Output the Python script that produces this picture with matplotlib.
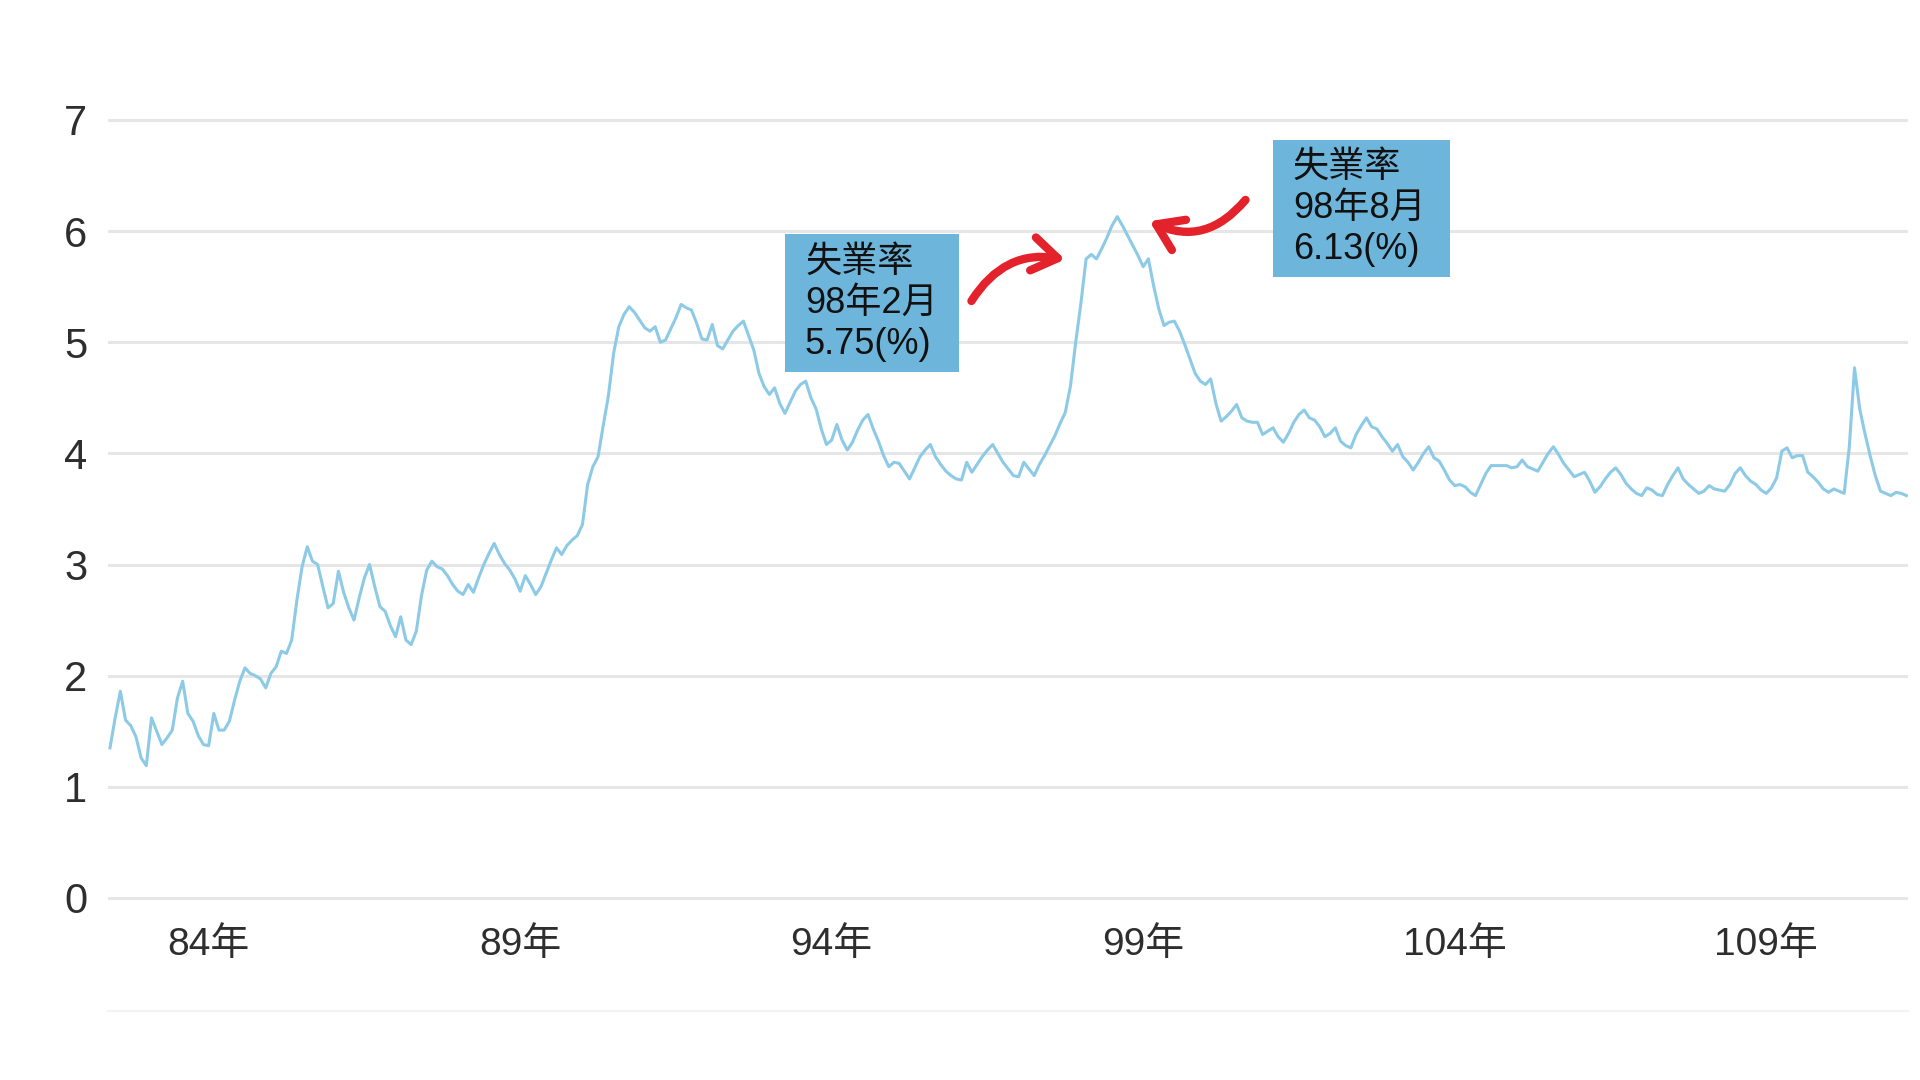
import matplotlib
matplotlib.use("Agg")
import matplotlib.pyplot as plt
from matplotlib.patches import Rectangle, FancyArrowPatch
from matplotlib.lines import Line2D

plt.rcParams['font.family'] = ['Liberation Sans', 'Noto Sans CJK TC', 'DejaVu Sans']

# Monthly unemployment rate (%), from 82年6月 to 111年4月, one row per ROC year
start_year, start_month = 82, 6
rate_82_83 = [1.35, 1.62, 1.86, 1.60, 1.55, 1.45, 1.26,
              1.19, 1.62, 1.50, 1.38, 1.44, 1.51, 1.80, 1.95, 1.66, 1.59, 1.46, 1.38]
rate_84_88 = [1.37, 1.66, 1.51, 1.51, 1.59, 1.78, 1.95, 2.07, 2.02, 2.00, 1.97, 1.89,
              2.02, 2.08, 2.22, 2.20, 2.32, 2.68, 2.98, 3.16, 3.03, 3.00, 2.80, 2.61,
              2.65, 2.94, 2.75, 2.61, 2.50, 2.70, 2.88, 3.00, 2.80, 2.62, 2.58, 2.45,
              2.35, 2.53, 2.32, 2.28, 2.40, 2.72, 2.95, 3.03, 2.98, 2.96, 2.90, 2.82,
              2.76, 2.73, 2.82, 2.75, 2.88, 3.00, 3.10, 3.19, 3.09, 3.01, 2.95, 2.87]
rate_89_93 = [2.76, 2.90, 2.82, 2.73, 2.80, 2.92, 3.04, 3.15, 3.09, 3.17, 3.22, 3.26,
              3.36, 3.72, 3.88, 3.97, 4.25, 4.52, 4.90, 5.14, 5.25, 5.32, 5.27, 5.20,
              5.13, 5.10, 5.14, 5.00, 5.02, 5.12, 5.22, 5.34, 5.31, 5.29, 5.17, 5.03,
              5.02, 5.16, 4.97, 4.94, 5.02, 5.10, 5.15, 5.19, 5.06, 4.93, 4.72, 4.60,
              4.53, 4.59, 4.45, 4.36, 4.46, 4.56, 4.62, 4.65, 4.50, 4.40, 4.22, 4.08]
rate_94_98 = [4.12, 4.26, 4.12, 4.03, 4.10, 4.21, 4.30, 4.35, 4.22, 4.11, 3.98, 3.88,
              3.92, 3.91, 3.84, 3.77, 3.87, 3.97, 4.03, 4.08, 3.97, 3.90, 3.84, 3.80,
              3.77, 3.76, 3.92, 3.83, 3.90, 3.97, 4.03, 4.08, 4.00, 3.92, 3.86, 3.80,
              3.79, 3.92, 3.86, 3.80, 3.90, 3.98, 4.07, 4.16, 4.27, 4.37, 4.61, 5.00,
              5.35, 5.75, 5.79, 5.75, 5.84, 5.94, 6.05, 6.13, 6.05, 5.96, 5.87, 5.78]
rate_99_103 = [5.68, 5.75, 5.51, 5.30, 5.15, 5.18, 5.19, 5.10, 4.98, 4.85, 4.72, 4.65,
               4.62, 4.67, 4.45, 4.29, 4.33, 4.38, 4.44, 4.32, 4.29, 4.28, 4.28, 4.17,
               4.20, 4.23, 4.15, 4.10, 4.18, 4.28, 4.35, 4.39, 4.32, 4.30, 4.24, 4.15,
               4.18, 4.23, 4.11, 4.07, 4.05, 4.17, 4.25, 4.32, 4.24, 4.22, 4.15, 4.09,
               4.02, 4.08, 3.97, 3.92, 3.85, 3.92, 4.00, 4.06, 3.96, 3.93, 3.85, 3.76]
rate_104_108 = [3.71, 3.72, 3.70, 3.65, 3.62, 3.72, 3.82, 3.89, 3.89, 3.89, 3.89, 3.87,
                3.88, 3.94, 3.88, 3.86, 3.84, 3.92, 4.00, 4.06, 3.99, 3.91, 3.85, 3.79,
                3.81, 3.83, 3.75, 3.65, 3.70, 3.77, 3.83, 3.87, 3.81, 3.73, 3.68, 3.64,
                3.62, 3.69, 3.67, 3.63, 3.62, 3.72, 3.80, 3.87, 3.77, 3.72, 3.68, 3.64,
                3.66, 3.71, 3.68, 3.67, 3.66, 3.72, 3.82, 3.87, 3.80, 3.75, 3.72, 3.67]
rate_109_111 = [3.64, 3.69, 3.78, 4.02, 4.05, 3.96, 3.98, 3.98, 3.83, 3.79, 3.74, 3.68,
                3.65, 3.68, 3.66, 3.64, 4.06, 4.77, 4.40, 4.18, 3.98, 3.80, 3.66, 3.64,
                3.62, 3.65, 3.64, 3.62]

tick_years = [84, 89, 94, 99, 104, 109]
tick_labels = [f"{y}年" for y in tick_years]
y_ticks = [0, 1, 2, 3, 4, 5, 6, 7]

note_feb = "失業率\n98年2月\n5.75(%)"
note_aug = "失業率\n98年8月\n6.13(%)"

rate = rate_82_83 + rate_84_88 + rate_89_93 + rate_94_98 + rate_99_103 + rate_104_108 + rate_109_111
months = [start_year + (start_month - 1) / 12 + i / 12 for i in range(len(rate))]

LINE_C = '#8ccae6'
BOX_C = '#6db5db'
ARROW_C = '#e3222b'
TXT_C = '#2e2e2e'

fig = plt.figure(figsize=(19.2, 10.8), dpi=100)
ax = fig.add_axes([108 / 1920, 0.1583, 1800 / 1920, 0.7409])

ax.plot(months, rate, color=LINE_C, lw=2.2, solid_joinstyle='round', zorder=3)

ax.set_xlim(82.385, 111.275)
ax.set_ylim(-0.1, 7.1)
ax.set_yticks(y_ticks)
ax.set_yticklabels([str(v) for v in y_ticks], fontsize=30, color=TXT_C)
ax.set_xticks(tick_years)
ax.set_xticklabels(tick_labels, fontsize=28, color=TXT_C)
ax.tick_params(axis='both', length=0)
ax.tick_params(axis='y', pad=15)
ax.tick_params(axis='x', pad=13)
ax.yaxis.grid(True, color='#e6e6e6', lw=2.2)
ax.set_axisbelow(True)
for s in ax.spines.values():
    s.set_visible(False)

# Annotation boxes
ax.add_patch(Rectangle((93.25, 4.73), 2.79, 1.243, facecolor=BOX_C, edgecolor='none', zorder=4))
ax.text(93.25 + 20 / 62.3, 4.73 + 1.243 / 2, note_feb, fontsize=26, color='#111111',
        ha='left', va='center', linespacing=1.22, zorder=5)

ax.add_patch(Rectangle((101.08, 5.586), 2.84, 1.234, facecolor=BOX_C, edgecolor='none', zorder=4))
ax.text(101.08 + 20 / 62.3, 5.586 + 1.234 / 2, note_aug, fontsize=26, color='#111111',
        ha='left', va='center', linespacing=1.22, zorder=5)

# Red curved arrows toward the peak
arr1 = FancyArrowPatch((96.22, 5.35), (97.79, 5.74), connectionstyle="arc3,rad=-0.35",
                       arrowstyle="->,head_length=0.45,head_width=0.3", mutation_scale=40,
                       color=ARROW_C, lw=6, capstyle='round', zorder=6)
ax.add_patch(arr1)
arr2 = FancyArrowPatch((100.67, 6.30), (99.06, 6.10), connectionstyle="arc3,rad=-0.4",
                       arrowstyle="->,head_length=0.45,head_width=0.3", mutation_scale=40,
                       color=ARROW_C, lw=6, capstyle='round', zorder=6)
ax.add_patch(arr2)

# faint separator under the chart
fig.add_artist(Line2D([108 / 1920, 1908 / 1920], [1 - 1011 / 1080] * 2, color='#f3f3f3', lw=1.5))

fig.savefig("out.png", dpi=100, facecolor='white')
